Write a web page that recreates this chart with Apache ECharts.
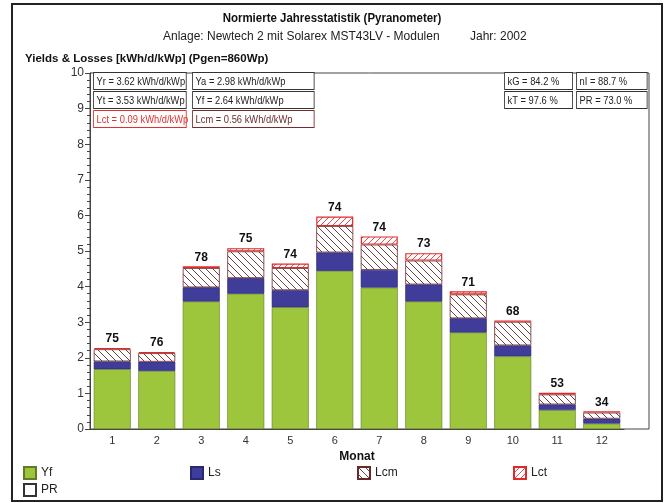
<!DOCTYPE html>
<html>
<head>
<meta charset="utf-8">
<script src="https://cdn.jsdelivr.net/npm/echarts@6/dist/echarts.min.js"></script>
<style>
  html, body { margin: 0; padding: 0; background: #fff; }
  #chart { width: 667px; height: 503px; }
</style>
</head>
<body>
<div id="chart"></div>
<script>
// Monate
const months = ['1', '2', '3', '4', '5', '6', '7', '8', '9', '10', '11', '12'];
// Yields & Losses [kWh/d/kWp]
const yfValues = [1.68, 1.63, 3.58, 3.80, 3.42, 4.44, 3.97, 3.58, 2.71, 2.04, 0.53, 0.15];
const lsValues = [0.22, 0.26, 0.40, 0.44, 0.48, 0.52, 0.50, 0.48, 0.40, 0.31, 0.16, 0.14];
const lcmValues = [0.34, 0.24, 0.54, 0.75, 0.62, 0.74, 0.71, 0.67, 0.67, 0.66, 0.28, 0.17];
const lctValues = [0.03, 0.03, 0.05, 0.09, 0.13, 0.27, 0.23, 0.21, 0.09, 0.04, 0.05, 0.04];
// Performance Ratio [%]
const prValues = [75, 76, 78, 75, 74, 74, 74, 73, 71, 68, 53, 34];

const infoLeft = [
  ['Yr = 3.62 kWh/d/kWp', 'Ya = 2.98 kWh/d/kWp'],
  ['Yt = 3.53 kWh/d/kWp', 'Yf = 2.64 kWh/d/kWp'],
  ['Lct = 0.09 kWh/d/kWp', 'Lcm = 0.56 kWh/d/kWp']
];
const infoRight = [
  ['kG = 84.2 %', 'nI = 88.7 %'],
  ['kT = 97.6 %', 'PR = 73.0 %']
];
const legendNames = ['Yf', 'Ls', 'Lcm', 'Lct'];

const FONT = "'Liberation Sans', Arial, sans-serif";
const NARROW = 0.85; // schmale Schrift nachbilden

// Schraffur als Canvas-Muster
const hatch = (color, slash, size) => {
  const c = document.createElement('canvas');
  c.width = size;
  c.height = size;
  const g = c.getContext('2d');
  g.fillStyle = '#fff';
  g.fillRect(0, 0, size, size);
  g.strokeStyle = color;
  g.lineWidth = 0.9;
  g.beginPath();
  if (slash) {
    g.moveTo(0, size); g.lineTo(size, 0);
    g.moveTo(-1, 1); g.lineTo(1, -1);
    g.moveTo(size - 1, size + 1); g.lineTo(size + 1, size - 1);
  } else {
    g.moveTo(0, 0); g.lineTo(size, size);
    g.moveTo(size - 1, -1); g.lineTo(size + 1, 1);
    g.moveTo(-1, size - 1); g.lineTo(1, size + 1);
  }
  g.stroke();
  return { image: c, repeat: 'repeat' };
};

const chart = echarts.init(document.getElementById('chart'), null, { renderer: 'canvas' });

const graphics = [];
const boxText = (text, x, y, w, color, border) => ({
  type: 'text',
  x: x,
  y: y,
  scaleX: NARROW,
  z: 10,
  style: {
    text: text,
    font: '11px ' + FONT,
    fill: color,
    backgroundColor: '#fff',
    borderColor: border,
    borderWidth: 1,
    padding: [2, 3, 1, 3],
    width: w,
    height: 13,
    lineHeight: 13
  }
});
const leftX = [94, 193];
const leftW = [102, 136];
const rowY = [73, 92, 111];
infoLeft.forEach((row, r) => {
  row.forEach((t, c) => {
    let color = '#222', border = '#333';
    if (r === 2 && c === 0) { color = '#e03030'; border = '#e03030'; }
    if (r === 2 && c === 1) { color = '#6a2a2a'; border = '#7a2a2a'; }
    graphics.push(boxText(t, leftX[c], rowY[r], leftW[c], color, border));
  });
});
const rightX = [505, 577];
const rightW = [73, 76];
infoRight.forEach((row, r) => {
  row.forEach((t, c) => {
    graphics.push(boxText(t, rightX[c], rowY[r], rightW[c], '#222', '#333'));
  });
});

// Titel
graphics.push({
  type: 'text',
  x: 332, y: 11, scaleX: NARROW,
  style: { text: 'Normierte Jahresstatistik (Pyranometer)', align: 'center', font: 'bold 13.5px ' + FONT, fill: '#111' }
});
graphics.push({
  type: 'text',
  x: 163, y: 31,
  style: { text: 'Anlage: Newtech 2 mit Solarex MST43LV - Modulen', font: '12px ' + FONT, fill: '#222' }
});
graphics.push({
  type: 'text',
  x: 470, y: 31,
  style: { text: 'Jahr: 2002', font: '12px ' + FONT, fill: '#222' }
});
graphics.push({
  type: 'text',
  x: 25, y: 53,
  style: { text: 'Yields & Losses [kWh/d/kWp] (Pgen=860Wp)', font: 'bold 11.5px ' + FONT, fill: '#111' }
});

// Rahmen aussen
graphics.push({
  type: 'rect',
  x: 12, y: 4, z: 0,
  shape: { width: 650, height: 497 },
  style: { fill: 'none', stroke: '#222', lineWidth: 2 }
});

const legendLeft = [18, 185, 352, 508];
const legendStyle = { fontFamily: FONT, fontSize: 12, color: '#222' };

const option = {
  backgroundColor: '#fff',
  animation: false,
  legend: legendNames.map((n, i) => ({
    data: [n],
    left: legendLeft[i],
    top: 461,
    icon: 'rect',
    itemWidth: 12,
    itemHeight: 12,
    textStyle: legendStyle
  })).concat([{
    data: ['PR'],
    left: 18,
    top: 478,
    icon: 'rect',
    itemWidth: 12,
    itemHeight: 12,
    textStyle: legendStyle
  }]),
  grid: [
    { left: 90, top: 73, width: 534, height: 356 },
    { left: 90, top: 73, width: 559, height: 356, show: true, borderColor: '#444', borderWidth: 1, backgroundColor: 'transparent' }
  ],
  xAxis: [
    {
      type: 'category',
      gridIndex: 0,
      data: months,
      name: 'Monat',
      nameLocation: 'middle',
      nameGap: 18,
      nameTextStyle: { fontFamily: FONT, fontSize: 12, fontWeight: 'bold', color: '#111' },
      axisLine: { lineStyle: { color: '#444' } },
      axisTick: { alignWithLabel: true, length: 4, lineStyle: { color: '#444' } },
      axisLabel: { fontFamily: FONT, fontSize: 11, color: '#333', margin: 6 }
    },
    { type: 'value', gridIndex: 1, show: false }
  ],
  yAxis: [
    {
      type: 'value',
      gridIndex: 0,
      min: 0,
      max: 10,
      interval: 1,
      axisLine: { show: true, lineStyle: { color: '#444' } },
      axisTick: { show: true, length: 5, lineStyle: { color: '#444' } },
      minorTick: { show: true, splitNumber: 5, length: 3, lineStyle: { color: '#444' } },
      splitLine: { show: false },
      axisLabel: { fontFamily: FONT, fontSize: 12, color: '#333', margin: 6 }
    },
    { type: 'value', gridIndex: 1, show: false }
  ],
  graphic: graphics,
  series: [
    {
      name: 'Yf',
      type: 'bar',
      stack: 'total',
      barWidth: 37,
      data: yfValues,
      itemStyle: { color: '#9dc63c', borderColor: '#5f7d28', borderWidth: 0.6 }
    },
    {
      name: 'Ls',
      type: 'bar',
      stack: 'total',
      data: lsValues,
      itemStyle: { color: '#403c9a', borderColor: '#2a2870', borderWidth: 0.6 }
    },
    {
      name: 'Lcm',
      type: 'bar',
      stack: 'total',
      data: lcmValues,
      itemStyle: { color: hatch('#5a3030', false, 7), borderColor: '#6a2a2a', borderWidth: 0.8 }
    },
    {
      name: 'Lct',
      type: 'bar',
      stack: 'total',
      data: lctValues,
      itemStyle: { color: hatch('#e03a3a', true, 6), borderColor: '#e02a2a', borderWidth: 1.2 },
      label: {
        show: true,
        position: 'top',
        distance: 3,
        formatter: p => prValues[p.dataIndex],
        fontFamily: FONT,
        fontSize: 12,
        fontWeight: 'bold',
        color: '#111'
      }
    },
    {
      name: 'PR',
      type: 'bar',
      stack: 'total',
      data: [],
      itemStyle: { color: '#fff', borderColor: '#333', borderWidth: 1 }
    }
  ]
};

chart.setOption(option);
</script>
</body>
</html>
